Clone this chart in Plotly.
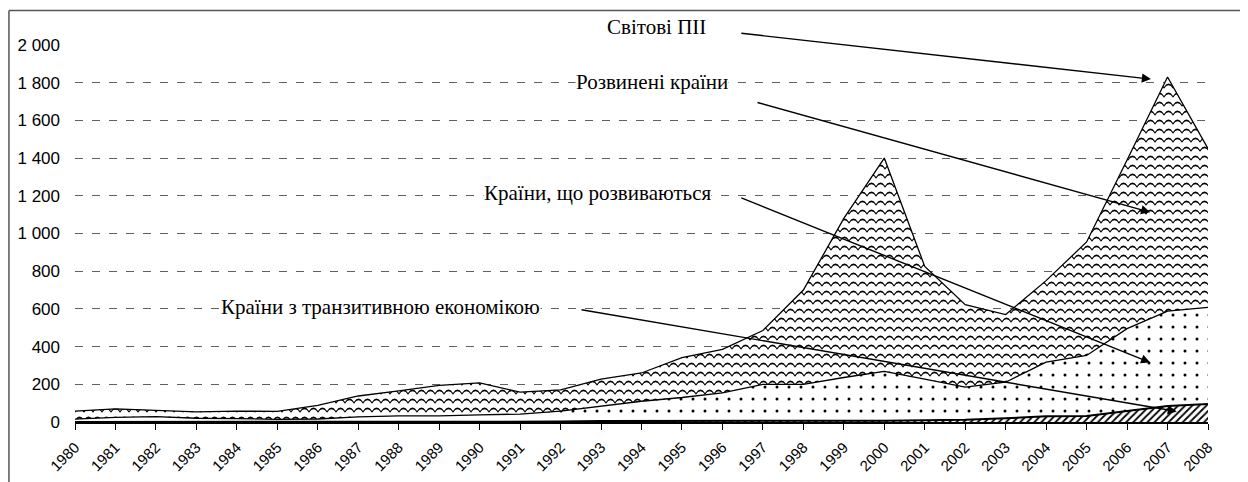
import plotly.graph_objects as go

years = list(range(1980, 2009))

# Inward FDI, billion USD (stacked): transition / developing / developed
transition = [0, 0, 0, 0, 0, 0, 0, 0, 0, 0, 0, 1, 2, 5, 5, 5, 6, 8, 8, 8,
              7, 9, 12, 20, 30, 32, 57, 85, 95]
developing = [15, 25, 28, 20, 18, 14, 16, 27, 32, 32, 38, 41, 56, 80, 105, 125,
              149, 192, 192, 228, 261, 219, 173, 191, 288, 321, 438, 503, 513]
developed = [43, 45, 34, 34, 40, 42, 72, 111, 133, 162, 170, 116, 112, 143, 150,
             212, 230, 285, 500, 844, 1132, 597, 437, 359, 432, 602, 895, 1242, 842]

y_tick_vals = [0, 200, 400, 600, 800, 1000, 1200, 1400, 1600, 1800, 2000]
y_tick_text = ["0", "200", "400", "600", "800", "1 000", "1 200", "1 400",
               "1 600", "1 800", "2 000"]

label_world = "Світові ПІІ"
label_developed = "Розвинені країни"
label_developing = "Країни, що розвиваються"
label_transition = "Країни з транзитивною економікою"

WAVE = "M0,6 Q4.5,-0.8 9,6 L9,7.7 Q4.5,0.9 0,7.7 Z"

fig = go.Figure()
fig.add_trace(go.Scatter(
    x=years, y=transition, stackgroup="s", mode="lines",
    line=dict(color="black", width=2), name=label_transition,
    fillpattern=dict(shape="/", size=5, solidity=0.35, fgcolor="black",
                     bgcolor="white", fillmode="replace"),
))
fig.add_trace(go.Scatter(
    x=years, y=developing, stackgroup="s", mode="lines",
    line=dict(color="black", width=1.3), name=label_developing,
    fillpattern=dict(shape=".", size=12, solidity=0.05, fgcolor="black",
                     bgcolor="white", fillmode="replace"),
))
fig.add_trace(go.Scatter(
    x=years, y=developed, stackgroup="s", mode="lines",
    line=dict(color="black", width=1.3), name=label_developed,
    fillpattern=dict(path=WAVE, size=9, fgcolor="black",
                     bgcolor="white", fillmode="replace"),
))

serif = "Liberation Serif"
# (text, x in years, y as fraction of the 0..2000 axis)
texts = [
    (label_world, 1993.12, 2095 / 2000),
    (label_developed, 1992.36, 1803 / 2000),
    (label_developing, 1990.08, 1214 / 2000),
    (label_transition, 1983.58, 608 / 2000),
]
for t, x, y in texts:
    fig.add_annotation(x=x, y=y, xref="x", yref="paper", text=t,
                       showarrow=False, xanchor="left", yanchor="middle",
                       bgcolor="white", borderpad=0,
                       font=dict(family=serif, size=21, color="black"))

arrows = [
    (1996.43, 2063, 2006.59, 1819),
    (1996.83, 1697, 2006.57, 1113),
    (1996.43, 1192, 2006.57, 316),
    (1992.48, 597, 2007.23, 56),
]
for ax, ay, x, y in arrows:
    fig.add_annotation(x=x, y=y, ax=ax, ay=ay, axref="x", ayref="y",
                       xref="x", yref="y", text="", showarrow=True,
                       arrowhead=2, arrowsize=1.3, arrowwidth=1.4,
                       arrowcolor="black")

# outer chart border (top and left)
border = dict(color="#555", width=1.5)
fig.add_shape(type="line", xref="paper", yref="paper",
              x0=-0.0583, x1=1.03, y0=1.0915, y1=1.0915, line=border)
fig.add_shape(type="line", xref="paper", yref="paper",
              x0=-0.0583, x1=-0.0583, y0=-0.2, y1=1.0915, line=border)

fig.update_layout(
    width=1240, height=474,
    margin=dict(l=67, r=40, t=37, b=60),
    plot_bgcolor="white", paper_bgcolor="white",
    showlegend=False,
    font=dict(family="Liberation Sans", color="black"),
    xaxis=dict(
        range=[1980, 2008], tickmode="array", tickvals=years,
        ticktext=[str(y) for y in years], tickangle=-45,
        tickfont=dict(size=15, family="Liberation Sans"),
        showgrid=False, showline=True, linecolor="black", linewidth=1.5,
        ticks="outside", ticklen=6, tickcolor="black", zeroline=False,
        ticklabelstandoff=3, automargin=False,
    ),
    yaxis=dict(
        range=[0, 2000], tickmode="array", tickvals=y_tick_vals,
        ticktext=y_tick_text, tickfont=dict(size=17, family="Liberation Sans"),
        showgrid=True, gridcolor="#606060", gridwidth=1, griddash="8px,9px",
        showline=False, zeroline=False, ticks="", ticklabelstandoff=14,
        automargin=False,
    ),
)

fig.write_html("out.html")
